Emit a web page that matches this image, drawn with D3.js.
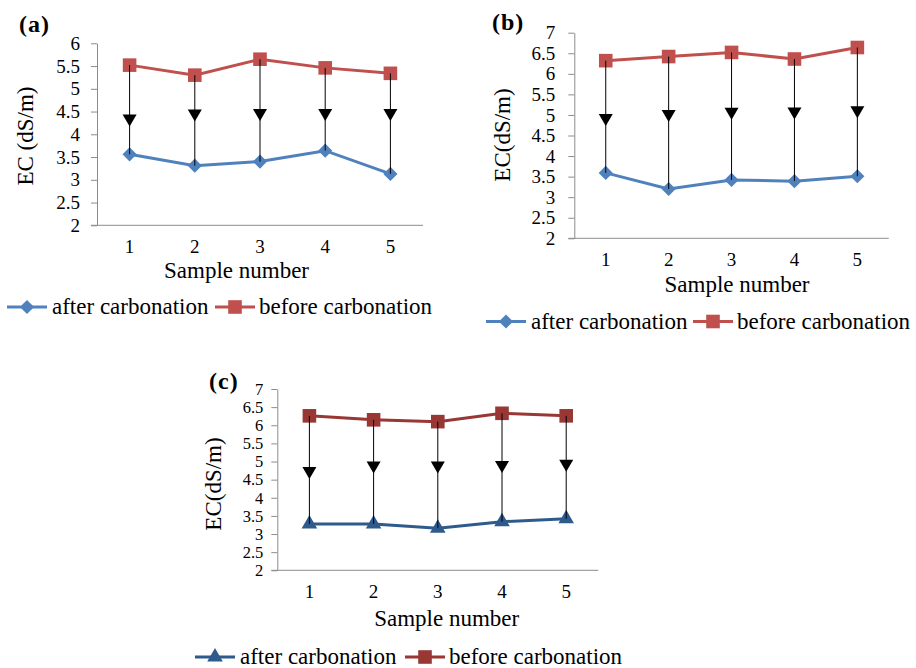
<!DOCTYPE html>
<html>
<head>
  <script src="https://d3js.org/d3.v7.min.js"></script>
  <style>
    body { margin: 0; background: #fff; }
    svg text { font-family: "Liberation Serif", "Times New Roman", serif; fill: #000; }
    .axis-title { font-size: 23px; }
    .legend-text { font-size: 23px; }
    .panel-label { font-size: 24px; font-weight: bold; letter-spacing: 1px; }
  </style>
</head>
<body>
  <div id="chart"></div>

  <script>
    // sample numbers on the x axis
    var samples = ["1", "2", "3", "4", "5"];

    // panel (a)
    var beforeA = [5.52, 5.30, 5.65, 5.46, 5.34];
    var afterA = [3.56, 3.31, 3.40, 3.64, 3.13];
    var arrowA = [4.17, 4.28, 4.29, 4.29, 4.29];
    var ticksA = [2, 2.5, 3, 3.5, 4, 4.5, 5, 5.5, 6];

    // panel (b)
    var beforeB = [6.32, 6.42, 6.52, 6.36, 6.64];
    var afterB = [3.59, 3.20, 3.42, 3.39, 3.51];
    var arrowB = [4.73, 4.83, 4.88, 4.89, 4.92];
    var ticksB = [2, 2.5, 3, 3.5, 4, 4.5, 5, 5.5, 6, 6.5, 7];

    // panel (c)
    var beforeC = [6.26, 6.15, 6.10, 6.33, 6.26];
    var afterC = [3.28, 3.28, 3.16, 3.34, 3.42];
    var arrowC = [4.52, 4.67, 4.67, 4.68, 4.72];
    var ticksC = [2, 2.5, 3, 3.5, 4, 4.5, 5, 5.5, 6, 6.5, 7];

    var seriesNames = ["after carbonation", "before carbonation"];

    var svg = d3.select("#chart")
      .append("svg")
      .attr("width", 916)
      .attr("height", 668)
      .style("font-family", "'Liberation Serif', serif");

    function afterSymbol(p) {
      return p.triangle
        ? d3.symbol().type(d3.symbolTriangle).size(105)
        : d3.symbol().type(d3.symbolSquare).size(100);
    }

    function drawPanel(p) {
      var x = d3.scaleBand()
        .domain(samples)
        .range([p.left, p.right]);
      var y = d3.scaleLinear()
        .domain([2, d3.max(p.ticks)])
        .range([p.bottom, p.top]);
      var cx = function(d, i) { return x(samples[i]) + x.bandwidth() / 2; };

      var g = svg.append("g");

      // y axis
      var yAxis = g.append("g")
        .attr("transform", "translate(" + p.left + ",0)")
        .call(d3.axisLeft(y)
          .tickValues(p.ticks)
          .tickSize(6)
          .tickSizeOuter(0)
          .tickPadding(p.tickPad)
          .tickFormat(function(d) { return String(d); }));
      yAxis.selectAll("path, line").attr("stroke", "#8c8c8c");
      yAxis.selectAll("text").style("font-size", p.yTickFont + "px");

      // x axis
      var xAxis = g.append("g")
        .attr("transform", "translate(0," + p.bottom + ")")
        .call(d3.axisBottom(x).tickSize(0).tickPadding(14));
      xAxis.select(".domain").remove();
      xAxis.selectAll("text").style("font-size", "19px");
      g.append("line")
        .attr("x1", p.left - 6)
        .attr("x2", p.right)
        .attr("y1", p.bottom)
        .attr("y2", p.bottom)
        .attr("stroke", "#8c8c8c");
      g.selectAll(".tick text")
        .attr("fill", "#000")
        .style("font-family", "'Liberation Serif', serif");

      var line = d3.line()
        .x(cx)
        .y(function(d) { return y(d); });

      // before series
      g.append("path")
        .datum(p.before)
        .attr("d", line)
        .attr("fill", "none")
        .attr("stroke", p.redColor)
        .attr("stroke-width", 3);
      g.selectAll(".sq")
        .data(p.before)
        .enter()
        .append("path")
        .attr("d", d3.symbol().type(d3.symbolSquare).size(185))
        .attr("transform", function(d, i) { return "translate(" + cx(d, i) + "," + y(d) + ")"; })
        .attr("fill", p.redColor);

      // after series
      g.append("path")
        .datum(p.after)
        .attr("d", line)
        .attr("fill", "none")
        .attr("stroke", p.blueColor)
        .attr("stroke-width", 3);
      g.selectAll(".af")
        .data(p.after)
        .enter()
        .append("path")
        .attr("d", afterSymbol(p))
        .attr("transform", function(d, i) {
          return "translate(" + cx(d, i) + "," + y(d) + ")" + (p.triangle ? "" : " rotate(45)");
        })
        .attr("fill", p.blueColor);

      // arrows from before to after
      p.before.forEach(function(b, i) {
        var xx = cx(b, i);
        g.append("line")
          .attr("x1", xx).attr("x2", xx)
          .attr("y1", y(b)).attr("y2", y(p.after[i]))
          .attr("stroke", "#000")
          .attr("stroke-width", 1);
        var ty = y(p.arrow[i]);
        g.append("path")
          .attr("d", "M" + (xx - 7) + "," + (ty - 12) + "L" + (xx + 7) + "," + (ty - 12) + "L" + xx + "," + ty + "Z")
          .attr("fill", "#000");
      });

      // panel label
      g.append("text")
        .attr("class", "panel-label")
        .attr("x", p.labelX)
        .attr("y", p.labelY)
        .text(p.label);

      // y axis title
      g.append("text")
        .attr("class", "axis-title")
        .attr("text-anchor", "middle")
        .attr("transform", "translate(" + p.yTitleX + "," + p.yTitleY + ") rotate(-90)")
        .attr("dy", "0.35em")
        .text(p.yTitle);

      // x axis title
      g.append("text")
        .attr("class", "axis-title")
        .attr("text-anchor", "middle")
        .attr("x", p.xTitleX)
        .attr("y", p.xTitleY)
        .text("Sample number");

      // legend
      var lg = g.append("g").attr("transform", "translate(" + p.legX + "," + p.legY + ")");
      lg.append("line").attr("x1", 0).attr("x2", 40).attr("y1", 0).attr("y2", 0)
        .attr("stroke", p.blueColor).attr("stroke-width", 3);
      lg.append("path")
        .attr("d", afterSymbol(p))
        .attr("transform", "translate(20,0)" + (p.triangle ? "" : " rotate(45)"))
        .attr("fill", p.blueColor);
      lg.append("text").attr("class", "legend-text")
        .attr("x", 45).attr("y", 7).text(seriesNames[0]);
      lg.append("line").attr("x1", p.legGap).attr("x2", p.legGap + 40).attr("y1", 0).attr("y2", 0)
        .attr("stroke", p.redColor).attr("stroke-width", 3);
      lg.append("path")
        .attr("d", d3.symbol().type(d3.symbolSquare).size(185))
        .attr("transform", "translate(" + (p.legGap + 20) + ",0)")
        .attr("fill", p.redColor);
      lg.append("text").attr("class", "legend-text")
        .attr("x", p.legGap + 44).attr("y", 7).text(seriesNames[1]);
    }

    drawPanel({
      before: beforeA, after: afterA, arrow: arrowA, ticks: ticksA,
      left: 97, right: 423, top: 43.3, bottom: 225.3, tickPad: 11, yTickFont: 19,
      blueColor: "#4f81bd", redColor: "#c0504d", triangle: false,
      label: "(a)", labelX: 19, labelY: 32,
      yTitle: "EC (dS/m)", yTitleX: 25, yTitleY: 136,
      xTitleX: 236.5, xTitleY: 278,
      legX: 7, legY: 307, legGap: 208
    });

    drawPanel({
      before: beforeB, after: afterB, arrow: arrowB, ticks: ticksB,
      left: 574.3, right: 888.8, top: 32.7, bottom: 238.3, tickPad: 13, yTickFont: 19,
      blueColor: "#4f81bd", redColor: "#c0504d", triangle: false,
      label: "(b)", labelX: 492, labelY: 30,
      yTitle: "EC(dS/m)", yTitleX: 502, yTitleY: 135,
      xTitleX: 737, xTitleY: 292,
      legX: 486, legY: 321.5, legGap: 207
    });

    drawPanel({
      before: beforeC, after: afterC, arrow: arrowC, ticks: ticksC,
      left: 277.3, right: 598.3, top: 389, bottom: 570.3, tickPad: 8, yTickFont: 16.5,
      blueColor: "#2f5b8c", redColor: "#983734", triangle: true,
      label: "(c)", labelX: 209, labelY: 389,
      yTitle: "EC(dS/m)", yTitleX: 213, yTitleY: 484,
      xTitleX: 446.7, xTitleY: 626,
      legX: 195, legY: 657, legGap: 210
    });
  </script>
</body>
</html>
